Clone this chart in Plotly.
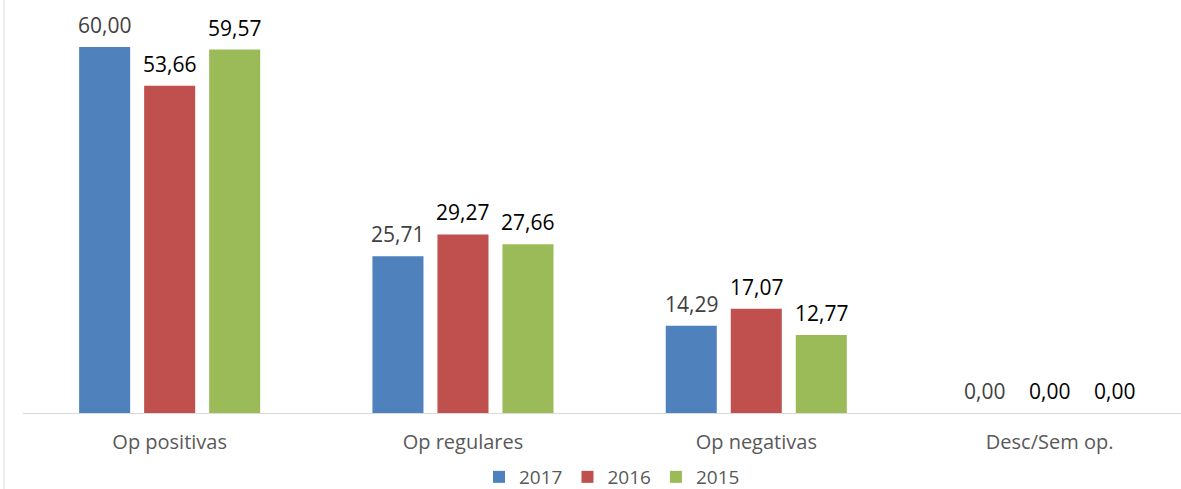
import plotly.graph_objects as go

categories = ["Op positivas", "Op regulares", "Op negativas", "Desc/Sem op."]
years = ["2017", "2016", "2015"]
values_2017 = [60.00, 25.71, 14.29, 0.00]
values_2016 = [53.66, 29.27, 17.07, 0.00]
values_2015 = [59.57, 27.66, 12.77, 0.00]

series = [
    (years[0], values_2017, "#4F81BD", "#404040"),
    (years[1], values_2016, "#C0504D", "#000000"),
    (years[2], values_2015, "#9BBB59", "#000000"),
]

FONT = "Open Sans"
W, H = 1181, 489
ML, MB = 23, 76
PLOT_W, PLOT_H = W - ML, H - MB
X_RANGE = [-0.5, 3.448]
BARGAP, BARGROUPGAP = 0.335, 0.215

# pixel distance between neighbouring bars of a group
cat_px = PLOT_W / (X_RANGE[1] - X_RANGE[0])
slot_px = cat_px * (1 - BARGAP) / len(series)

fig = go.Figure()
for k, (name, vals, color, label_color) in enumerate(series):
    fig.add_trace(go.Bar(
        x=categories,
        y=vals,
        name=name,
        marker=dict(color=color, line=dict(width=0)),
    ))
    for cat, v in zip(categories, vals):
        fig.add_annotation(
            x=cat, y=v, xref="x", yref="y",
            text=f"{v:.2f}".replace(".", ","),
            showarrow=False,
            xanchor="center", yanchor="bottom",
            xshift=(k - 1) * slot_px, yshift=6,
            font=dict(family=FONT, size=21, color=label_color),
        )

fig.update_layout(
    width=W,
    height=H,
    margin=dict(l=ML, r=0, t=0, b=MB, autoexpand=False),
    paper_bgcolor="white",
    plot_bgcolor="white",
    barmode="group",
    bargap=BARGAP,
    bargroupgap=BARGROUPGAP,
    font=dict(family=FONT, color="#595959"),
    showlegend=True,
    legend=dict(
        orientation="h",
        x=(612 - ML) / PLOT_W, xanchor="center",
        y=-(477 - PLOT_H) / PLOT_H, yanchor="middle",
        font=dict(family=FONT, size=19, color="#595959"),
        itemwidth=30,
        tracegroupgap=0,
        traceorder="normal",
    ),
    xaxis=dict(
        range=X_RANGE,
        showline=True,
        linecolor="#D9D9D9",
        linewidth=1,
        showgrid=False,
        ticks="",
        tickfont=dict(family=FONT, size=20, color="#595959"),
        ticklabelstandoff=11,
    ),
    yaxis=dict(
        range=[0, 67.7],
        visible=False,
        showgrid=False,
    ),
)

# chart frame line on the left edge
fig.add_shape(type="line", xref="paper", yref="paper",
              x0=-19 / PLOT_W, x1=-19 / PLOT_W, y0=-MB / PLOT_H, y1=1,
              line=dict(color="#D9D9D9", width=1))

fig.write_html("out.html")
